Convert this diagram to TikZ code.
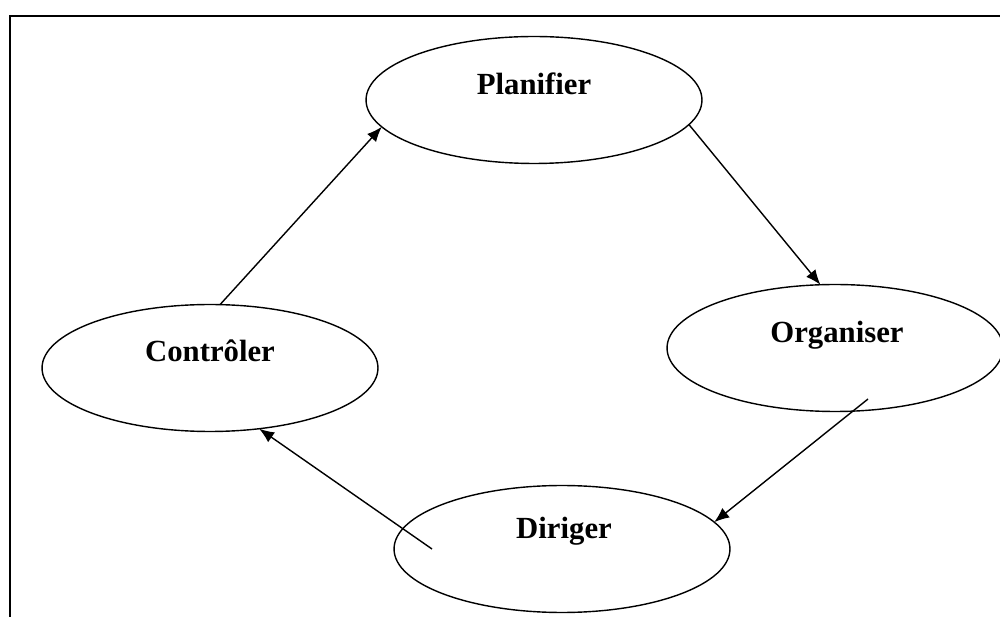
\documentclass[tikz,border=0pt]{standalone}
\usepackage{fontspec}
\setmainfont{Liberation Serif}
\usetikzlibrary{shapes.geometric,arrows.meta}
\tikzset{
	etape/.style={draw,ellipse,line width=.8pt,minimum width=6.72cm,minimum height=2.54cm,inner sep=0pt,outer sep=0pt},
	titre/.style={font=\bfseries\fontsize{17.5}{20}\selectfont,anchor=base,inner sep=0pt},
	fleche/.style={line width=.8pt,-{Latex[length=3mm,width=2.4mm]}}
}
\begin{document}
\begin{tikzpicture}[x=.02cm,y=-.02cm]
				\useasboundingbox (0,0) rectangle (1000,617);
				\clip (0,0) rectangle (1000,617);
				\draw [line width=.8pt] (10,640)--(10,16)--(1020,16);
				\node [etape] (pla) at (534,100) {};
				\node [etape] (org) at (835,348) {};
				\node [etape] (dir) at (562,549) {};
				\node [etape] (con) at (210,368) {};
				\node [titre] (tpla) at (534,95) {Planifier};
				\node [titre] (torg) at (837,343) {Organiser};
				\node [titre] (tdir) at (564,539) {Diriger};
				\node [titre] (tcon) at (210,362) {Contrôler};
				\coordinate (o1) at (868,399);
				\coordinate (d1) at (432,549);
				\draw [fleche] (con.81)--(pla.190);
				\draw [fleche] (pla.-9)--(org.103);
				\draw [fleche] (o1)--(dir.10);
				\draw [fleche] (d1)--(con.-51);
			\end{tikzpicture}
\end{document}
